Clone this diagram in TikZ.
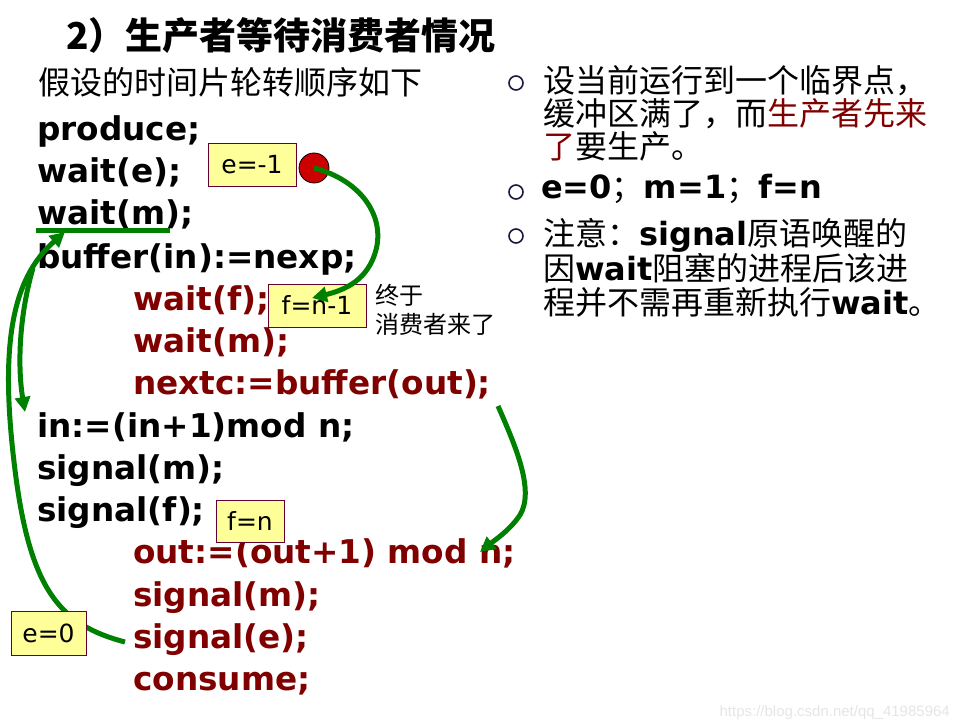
\documentclass[tikz,border=0pt]{standalone}
\usepackage{fontspec}
\usetikzlibrary{arrows.meta}
\setmainfont{DejaVu Sans}
\newfontfamily\cjk{Noto Sans CJK SC}
\newfontfamily\arialf{Liberation Sans}
\newcommand\codebf[1]{{\normalfont\bfseries #1}}
\definecolor{codered}{HTML}{800000}
\definecolor{gr}{HTML}{008000}
\definecolor{yfill}{HTML}{FFFF99}
\definecolor{yline}{HTML}{660033}
\definecolor{dotred}{HTML}{CC0000}
\definecolor{bul}{HTML}{1A1A40}
\begin{document}
\begin{tikzpicture}[x=1pt,y=-1pt,
  code/.style={anchor=base west,inner sep=0pt,font=\fontsize{32.7}{38}\selectfont\bfseries},
  rcode/.style={code,text=codered},
  rtext/.style={anchor=base west,inner sep=0pt,font=\cjk\fontsize{32}{36}\selectfont},
  ybox/.style={draw=yline,fill=yfill,line width=0.9pt,inner sep=0pt,font=\fontsize{25}{28}\selectfont},
  bulletc/.style={circle,draw=bul,line width=1.6pt,minimum size=14pt,inner sep=0pt},
  garrow/.style={draw=gr,line width=5pt,-{Triangle[length=15pt,width=15pt]}},
  gline/.style={draw=gr,line width=5pt}
]
\useasboundingbox (0,0) rectangle (960,727);
% title
\node[anchor=base west,inner sep=0pt,font=\cjk\bfseries\fontsize{37}{40}\selectfont] (title) at (66,50) {2）生产者等待消费者情况};
\node[rtext] (intro) at (38,95) {假设的时间片轮转顺序如下};
% code
\node[code] (l1) at (37,141) {produce;};
\node[code] (l2) at (37,183) {wait(e);};
\node[code] (l3) at (37,225) {wait(m);};
\node[code] (l4) at (37,268) {buffer(in):=nexp;};
\node[rcode] (l5) at (133,310) {wait(f);};
\node[rcode] (l6) at (133,352) {wait(m);};
\node[rcode] (l7) at (133,394) {nextc:=buffer(out);};
\node[code] (l8) at (37,437) {in:=(in+1)mod n;};
\node[code] (l9) at (37,479) {signal(m);};
\node[code] (l10) at (37,521) {signal(f);};
\node[rcode] (l11) at (133,563) {out:=(out+1) mod n;};
\node[rcode] (l12) at (133,606) {signal(m);};
\node[rcode] (l13) at (133,648) {signal(e);};
\node[rcode] (l14) at (133,690) {consume;};
% right bullets
\node[bulletc] (bu1) at (516,83) {};
\node[bulletc] (bu2) at (516,192) {};
\node[bulletc] (bu3) at (516,236) {};
\node[rtext] (r1) at (543,93) {设当前运行到一个临界点，};
\node[rtext] (r2) at (543,126) {缓冲区满了，而\textcolor{codered}{生产者先来}};
\node[rtext] (r3) at (543,159) {\textcolor{codered}{了}要生产。};
\node[rtext] (r4) at (541,199) {\codebf{e=0}；\codebf{m=1}；\codebf{f=n}};
\node[rtext] (r5) at (543,245) {注意：\codebf{signal}原语唤醒的};
\node[rtext] (r6) at (543,280) {因\codebf{wait}阻塞的进程后该进};
\node[rtext] (r7) at (543,314) {程并不需再重新执行\codebf{wait}。};
% side note
\node[anchor=base west,inner sep=0pt,font=\cjk\fontsize{24}{26}\selectfont] (n1) at (375,304) {终于};
\node[anchor=base west,inner sep=0pt,font=\cjk\fontsize{24}{26}\selectfont] (n2) at (375,333) {消费者来了};
% green long loop (under e=0 box)
\coordinate (se) at (125,642);
\coordinate (wm) at (65,232);
\draw[garrow] (se) .. controls (60,625) and (30,590) .. (15,470) .. controls (0,350) and (10,280) .. (wm);
% boxes
\node[ybox,minimum width=88pt,minimum height=43pt] (b1) at (252,165) {e=-1};
\node[ybox,minimum width=98pt,minimum height=43pt] (b2) at (317,305.5) {f=n-1};
\node[ybox,minimum width=68pt,minimum height=42pt] (b3) at (250,521) {f=n};
\node[ybox,minimum width=75pt,minimum height=44pt] (b4) at (48.5,633) {e=0};
\node[circle,draw=black,line width=0.8pt,fill=dotred,minimum size=30pt,inner sep=0pt] (dot) at (314,168) {};
% underline of wait(m)
\coordinate (u1) at (36,231);
\coordinate (u2) at (170,231);
\draw[gline] (u1) -- (u2);
% arrows
\coordinate (t1) at (312,298);
\draw[garrow] (dot.center) .. controls (360,180) and (385,215) .. (376,250) .. controls (368,280) and (345,290) .. (t1);
\coordinate (s3) at (33,268);
\coordinate (t3) at (25,412);
\draw[garrow] (s3) .. controls (18,320) and (18,370) .. (t3);
\coordinate (s4) at (498,406);
\coordinate (t4) at (480,552);
\draw[garrow] (s4) .. controls (515,445) and (535,490) .. (520,515) .. controls (510,530) and (495,540) .. (t4);
% watermark
\node[anchor=base east,inner sep=0pt,text=black!10,font=\arialf\fontsize{15}{18}\selectfont] (wmk) at (950,716) {https://blog.csdn.net/qq\_41985964};
\end{tikzpicture}
\end{document}
